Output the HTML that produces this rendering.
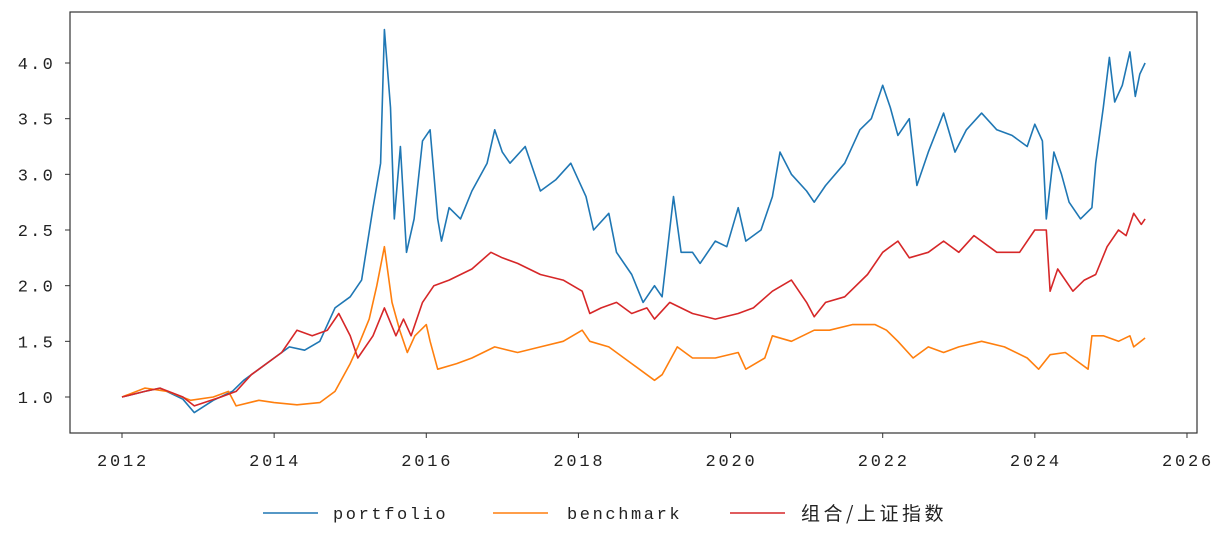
<!DOCTYPE html>
<html><head><meta charset="utf-8"><style>
body{margin:0;background:#fff;width:1221px;height:537px;overflow:hidden}
svg text{font-family:"Liberation Mono","Noto Sans CJK SC",monospace;fill:#222}
</style></head><body>
<svg id="chart" width="1221" height="537" xmlns="http://www.w3.org/2000/svg">
<rect x="70" y="12" width="1127" height="421" fill="#fff" stroke="#333" stroke-width="1.2"/>
<g id="xticks"></g><g id="yticks"></g><g id="lines"></g>
<g>
<line x1="263" y1="513" x2="318" y2="513" stroke="#1f77b4" stroke-width="1.6"/>
<text x="333" y="519" font-size="17" letter-spacing="2.6">portfolio</text>
<line x1="493" y1="513" x2="548" y2="513" stroke="#ff7f0e" stroke-width="1.6"/>
<text x="567" y="519" font-size="17" letter-spacing="2.6">benchmark</text>
<line x1="730" y1="513" x2="785" y2="513" stroke="#d62728" stroke-width="1.6"/>
<text x="801" y="520" font-size="19" letter-spacing="3.5" style="font-family:'Noto Sans CJK SC',sans-serif">组合/上证指数</text>
</g>
</svg>
<script>
const xTicks=[2012,2014,2016,2018,2020,2022,2024,2026];
const yTicks=[1.0,1.5,2.0,2.5,3.0,3.5,4.0];
const portfolioT=[2012,2012.3,2012.5,2012.8,2012.95,2013.2,2013.45,2013.6,2013.8,2014,2014.2,2014.4,2014.6,2014.8,2015,2015.15,2015.3,2015.4,2015.45,2015.53,2015.58,2015.66,2015.74,2015.84,2015.95,2016.05,2016.15,2016.2,2016.3,2016.45,2016.6,2016.8,2016.9,2017,2017.1,2017.3,2017.5,2017.7,2017.9,2018,2018.1,2018.2,2018.4,2018.5,2018.7,2018.85,2019,2019.1,2019.25,2019.35,2019.5,2019.6,2019.8,2019.95,2020.1,2020.2,2020.4,2020.55,2020.65,2020.8,2021,2021.1,2021.25,2021.5,2021.7,2021.85,2022,2022.1,2022.2,2022.35,2022.45,2022.6,2022.8,2022.95,2023.1,2023.3,2023.5,2023.7,2023.9,2024,2024.1,2024.15,2024.25,2024.35,2024.45,2024.6,2024.75,2024.8,2024.9,2024.98,2025.05,2025.15,2025.25,2025.32,2025.38,2025.45];
const portfolioV=[1.0,1.05,1.08,0.98,0.86,0.97,1.05,1.15,1.25,1.35,1.45,1.42,1.5,1.8,1.9,2.05,2.7,3.1,4.3,3.6,2.6,3.25,2.3,2.6,3.3,3.4,2.6,2.4,2.7,2.6,2.85,3.1,3.4,3.2,3.1,3.25,2.85,2.95,3.1,2.95,2.8,2.5,2.65,2.3,2.1,1.85,2.0,1.9,2.8,2.3,2.3,2.2,2.4,2.35,2.7,2.4,2.5,2.8,3.2,3.0,2.85,2.75,2.9,3.1,3.4,3.5,3.8,3.6,3.35,3.5,2.9,3.2,3.55,3.2,3.4,3.55,3.4,3.35,3.25,3.45,3.3,2.6,3.2,3.0,2.75,2.6,2.7,3.1,3.6,4.05,3.65,3.8,4.1,3.7,3.9,4.0];
const benchT=[2012,2012.3,2012.6,2012.9,2013.2,2013.4,2013.5,2013.8,2014,2014.3,2014.6,2014.8,2015,2015.1,2015.25,2015.35,2015.45,2015.55,2015.65,2015.75,2015.85,2016,2016.05,2016.15,2016.4,2016.6,2016.9,2017.2,2017.5,2017.8,2018.05,2018.15,2018.4,2018.7,2019,2019.1,2019.3,2019.5,2019.8,2020.1,2020.2,2020.45,2020.55,2020.8,2021.1,2021.3,2021.6,2021.9,2022.05,2022.2,2022.4,2022.6,2022.8,2023,2023.3,2023.6,2023.9,2024.05,2024.2,2024.4,2024.6,2024.7,2024.75,2024.9,2025.1,2025.25,2025.3,2025.45];
const benchV=[1.0,1.08,1.05,0.97,1.0,1.05,0.92,0.97,0.95,0.93,0.95,1.05,1.3,1.45,1.7,2.0,2.35,1.85,1.6,1.4,1.55,1.65,1.5,1.25,1.3,1.35,1.45,1.4,1.45,1.5,1.6,1.5,1.45,1.3,1.15,1.2,1.45,1.35,1.35,1.4,1.25,1.35,1.55,1.5,1.6,1.6,1.65,1.65,1.6,1.5,1.35,1.45,1.4,1.45,1.5,1.45,1.35,1.25,1.38,1.4,1.3,1.25,1.55,1.55,1.5,1.55,1.45,1.53];
const ratioT=[2012,2012.3,2012.5,2012.8,2012.95,2013.3,2013.5,2013.7,2013.9,2014.1,2014.3,2014.5,2014.7,2014.85,2015,2015.1,2015.3,2015.45,2015.6,2015.7,2015.8,2015.95,2016.1,2016.3,2016.6,2016.85,2017,2017.2,2017.5,2017.8,2018.05,2018.15,2018.3,2018.5,2018.7,2018.9,2019,2019.2,2019.5,2019.8,2020.1,2020.3,2020.55,2020.8,2021,2021.1,2021.25,2021.5,2021.8,2022,2022.2,2022.35,2022.6,2022.8,2023,2023.2,2023.5,2023.8,2024,2024.15,2024.2,2024.3,2024.5,2024.65,2024.8,2024.95,2025.1,2025.2,2025.3,2025.4,2025.45];
const ratioV=[1.0,1.05,1.08,1.0,0.92,1.0,1.05,1.2,1.3,1.4,1.6,1.55,1.6,1.75,1.55,1.35,1.55,1.8,1.55,1.7,1.55,1.85,2.0,2.05,2.15,2.3,2.25,2.2,2.1,2.05,1.95,1.75,1.8,1.85,1.75,1.8,1.7,1.85,1.75,1.7,1.75,1.8,1.95,2.05,1.85,1.72,1.85,1.9,2.1,2.3,2.4,2.25,2.3,2.4,2.3,2.45,2.3,2.3,2.5,2.5,1.95,2.15,1.95,2.05,2.1,2.35,2.5,2.45,2.65,2.55,2.6];
const X=y=>122+(y-2012)*76.07, Y=v=>397-(v-1)*111.33;
const NS="http://www.w3.org/2000/svg";
function mk(tag,attrs,parent){const e=document.createElementNS(NS,tag);for(const k in attrs)e.setAttribute(k,attrs[k]);parent.appendChild(e);return e;}
const xg=document.getElementById('xticks'),yg=document.getElementById('yticks'),lg=document.getElementById('lines');
xTicks.forEach(t=>{const x=X(t);
 const l=mk('line',{x1:x,x2:x,y1:433,y2:438,stroke:'#333'},xg);
 
 
 const tx=mk('text',{x:x+1,y:466,'text-anchor':'middle','font-size':17,'letter-spacing':2.8},xg);tx.textContent=t;
 
 });
yTicks.forEach(t=>{const y=Y(t);
 const l=mk('line',{x1:65,x2:70,y1:y,y2:y,stroke:'#333'},yg);
 
 
 const tx=mk('text',{x:55,y:y+6,'text-anchor':'end','font-size':17,'letter-spacing':2.2},yg);tx.textContent=t.toFixed(1);
 
 });
function series(T,V,color,name){const d=T.map((t,i)=>(i?'L':'M')+X(t).toFixed(1)+','+Y(V[i]).toFixed(1)).join('');
 const p=mk('path',{d:d,fill:'none',stroke:color,'stroke-width':1.6,'stroke-linejoin':'round'},lg);
 
 }
series(portfolioT,portfolioV,'#1f77b4','portfolio-line');
series(benchT,benchV,'#ff7f0e','benchmark-line');
series(ratioT,ratioV,'#d62728','ratio-line');
</script>
</body></html>
